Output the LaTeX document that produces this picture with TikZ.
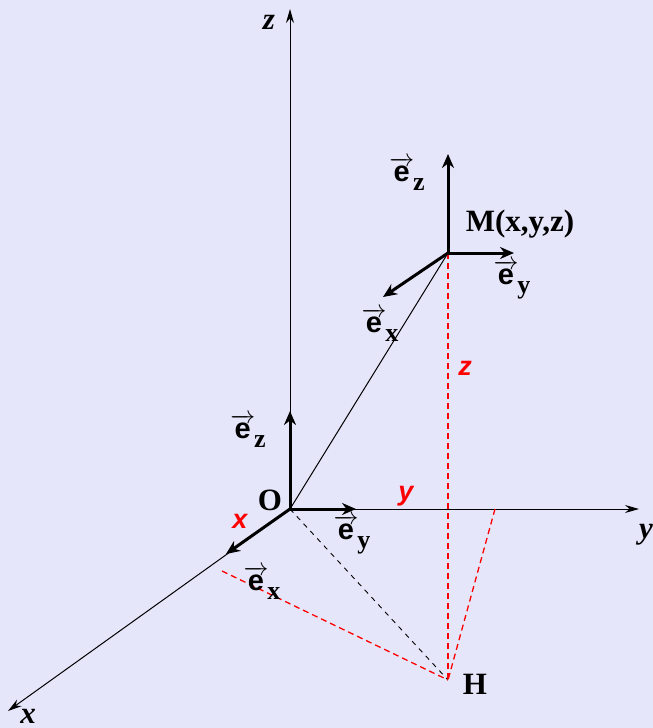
\documentclass[tikz,border=0pt]{standalone}
\usepackage{fontspec}
\setmainfont{Liberation Serif}
\setsansfont{Liberation Sans}
\usetikzlibrary{arrows.meta}
\definecolor{bg}{RGB}{230,230,250}
\newcommand\evec[1]{$\overrightarrow{\hbox{\sffamily\bfseries e}}$\kern-1pt\raisebox{-0.32em}{\fontsize{26}{28}\selectfont\rmfamily\bfseries #1}}
\begin{document}
\begin{tikzpicture}[x=1pt,y=-1pt,
  axis/.style={line width=1pt,-{Stealth[length=14pt,width=8pt]}},
  unit/.style={line width=3pt,-{Stealth[length=14pt,width=12pt]}},
  proj/.style={red,line width=1.3pt,dash pattern=on 6pt off 4pt},
  projk/.style={black,line width=0.9pt,dash pattern=on 5pt off 5pt},
  lbl/.style={inner sep=0,font=\fontsize{31}{34}\selectfont\bfseries},
  axl/.style={inner sep=0,font=\fontsize{31}{34}\selectfont\bfseries\itshape},
  redl/.style={inner sep=0,text=red,font=\fontsize{27}{30}\selectfont\sffamily\bfseries\itshape},
  vlbl/.style={inner sep=0,font=\fontsize{29}{32}\selectfont}]
\fill[bg] (0,0) rectangle (653,728);
\useasboundingbox (0,0) rectangle (653,728);
% points
\coordinate (O) at (290,509);
\coordinate (Zt) at (290,9);
\coordinate (Yt) at (639,509);
\coordinate (Xt) at (8,711);
\coordinate (M) at (448,253);
\coordinate (H) at (448,680);
\coordinate (Hy) at (495,509);
\coordinate (Hx) at (222,571);
\coordinate (OeZ) at (290,411);
\coordinate (OeY) at (356,509);
\coordinate (OeX) at (226,554);
\coordinate (MeZ) at (448,154);
\coordinate (MeY) at (514,253);
\coordinate (MeX) at (383,297);
% axes
\draw[axis] (O) -- (Zt);
\draw[axis] (O) -- (Yt);
\draw[axis] (O) -- (Xt);
\draw[line width=1pt] (O) -- (M);
% projections
\draw[projk] (O) -- (H);
\draw[proj] (M) -- (H);
\draw[proj] (Hy) -- (H);
\draw[proj] (Hx) -- (H);
% unit vectors
\draw[unit] (O) -- (OeZ);
\draw[unit] (O) -- (OeY);
\draw[unit] (O) -- (OeX);
\draw[unit] (M) -- (MeZ);
\draw[unit] (M) -- (MeY);
\draw[unit] (M) -- (MeX);
% labels
\node[axl] (lz) at (269,22) {z};
\node[axl] (ly) at (646,535) {y};
\node[axl] (lx) at (28,716) {x};
\node[lbl] (lO) at (270,500) {O};
\node[lbl] (lH) at (475,684) {H};
\node[lbl] (lM) at (520,224) {M(x,y,z)};
\node[redl] (rx) at (240,521) {x};
\node[redl] (ry) at (406,496) {y};
\node[redl] (rz) at (465,368) {z};
\node[vlbl] (vOz) at (248,431) {\evec{z}};
\node[vlbl] (vOy) at (352,535) {\evec{y}};
\node[vlbl] (vOx) at (262,583) {\evec{x}};
\node[vlbl] (vMz) at (407,174) {\evec{z}};
\node[vlbl] (vMy) at (512,280) {\evec{y}};
\node[vlbl] (vMx) at (380,325) {\evec{x}};
\end{tikzpicture}
\end{document}
